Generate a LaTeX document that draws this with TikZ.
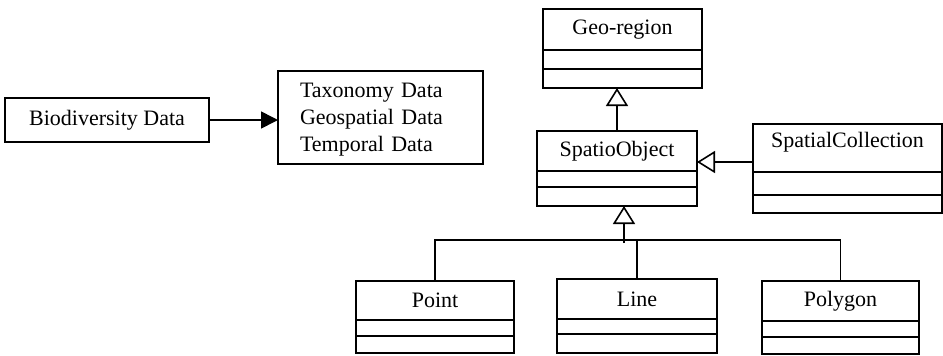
\documentclass[tikz,border=0pt]{standalone}
\usepackage{fontspec}
\setmainfont{Liberation Serif}
\usetikzlibrary{arrows.meta,positioning}

\begin{document}
\begin{tikzpicture}[
    x=0.5pt, y=-0.5pt,
    node distance=0pt,
    box/.style={rectangle, draw=black, line width=0.8pt, inner sep=0pt, outer sep=0pt, font=\fontsize{11}{13.5}\selectfont},
    classname/.style={box, text centered},
    compart/.style={box},
    arrow/.style={line width=0.8pt, -{Triangle[length=8.5pt, width=8.5pt]}},
    inherit/.style={line width=0.8pt, -{Triangle[open, length=9pt, width=11pt]}},
    link/.style={line width=0.8pt}
]
\useasboundingbox (0,0) rectangle (943,355);

% Data boxes
\node[box, minimum width=102pt, minimum height=22pt] (bio) at (107,120) {Biodiversity Data};
\node[box, minimum height=46.5pt, text width=80.5pt, inner xsep=11pt, align=left] (kinds) at (380.5,117.5) {\strut Taxonomy Data\\Geospatial Data\\Temporal Data};

% Geo-region
\node[classname, minimum width=79.5pt, minimum height=20.5pt] (geo) at (622.5,29.5) {Geo-region};
\node[compart, minimum width=79.5pt, minimum height=9.5pt, below=of geo] (geo1) {};
\node[compart, minimum width=79.5pt, minimum height=9.5pt, below=of geo1] (geo2) {};

% SpatioObject
\node[classname, minimum width=80pt, minimum height=20pt] (spatio) at (617,151) {SpatioObject};
\node[compart, minimum width=80pt, minimum height=8pt, below=of spatio] (spatio1) {};
\node[compart, minimum width=80pt, minimum height=9.5pt, below=of spatio1] (spatio2) {};

% SpatialCollection
\node[classname, minimum width=94.5pt, minimum height=24pt, text height=11.5pt, text depth=12.5pt] (coll) at (847.5,148) {SpatialCollection};
\node[compart, minimum width=94.5pt, minimum height=11.5pt, below=of coll] (coll1) {};
\node[compart, minimum width=94.5pt, minimum height=9pt, below=of coll1] (coll2) {};

% Point
\node[classname, minimum width=79pt, minimum height=19.5pt] (point) at (435,300.5) {Point};
\node[compart, minimum width=79pt, minimum height=8pt, below=of point] (point1) {};
\node[compart, minimum width=79pt, minimum height=8.5pt, below=of point1] (point2) {};

% Line
\node[classname, minimum width=80pt, minimum height=20pt] (line) at (637,299) {Line};
\node[compart, minimum width=80pt, minimum height=7.5pt, below=of line] (line1) {};
\node[compart, minimum width=80pt, minimum height=9.5pt, below=of line1] (line2) {};

% Polygon
\node[classname, minimum width=78.5pt, minimum height=20pt] (poly) at (840.5,301) {Polygon};
\node[compart, minimum width=78.5pt, minimum height=8pt, below=of poly] (poly1) {};
\node[compart, minimum width=78.5pt, minimum height=8.5pt, below=of poly1] (poly2) {};

% Connectors
\draw[arrow] (bio) -- (kinds.west |- bio);
\draw[inherit] (spatio.north) -- (spatio.north |- geo2.south);
\draw[inherit] ([yshift=-7pt]coll.west) -- ([yshift=-7pt]coll.west -| spatio.east);
\coordinate (fork) at (624,240);
\draw[inherit] ([yshift=-1.5pt]fork) -- (fork |- spatio2.south);
\draw[link] (point.north) |- (fork) -| (poly.north);
\draw[link] (line.north) -- (line.north |- fork);

\end{tikzpicture}
\end{document}
